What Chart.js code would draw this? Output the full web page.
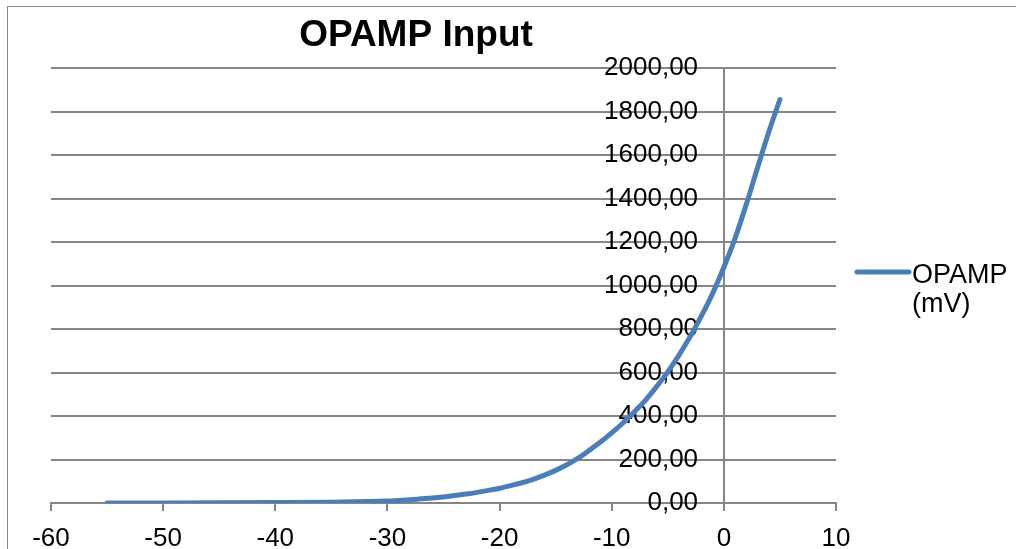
<!DOCTYPE html>
<html>
<head>
<meta charset="utf-8">
<script src="https://cdn.jsdelivr.net/npm/chart.js@4.4.0/dist/chart.umd.min.js"></script>
<style>
html, body { margin: 0; padding: 0; background: #fff; }
#wrap { position: relative; width: 1016px; height: 549px; overflow: hidden; }
#frame { position: absolute; left: 7px; top: 6px; width: 1100px; height: 600px; border: 1px solid #868686; }
canvas { position: absolute; left: 0; top: 0; }
</style>
</head>
<body>
<div id="wrap">
<div id="frame"></div>
<canvas id="myChart" width="1016" height="549"></canvas>
</div>
<script>
const ctx = document.getElementById('myChart');

// x values (input) and OPAMP output in mV
const inputX = [-55, -50, -45, -40, -35, -30, -29, -28, -27, -26, -25, -24, -23, -22, -21,
    -20, -19, -18, -17, -16, -15, -14, -13, -12, -11, -10, -9, -8, -7, -6,
    -5, -4, -3, -2, -1, 0, 1, 2, 3, 4, 5];
const opampMv = [0.2, 0.5, 1, 2, 4, 9, 12, 15, 19, 23, 28, 34, 41, 49, 58,
    68, 80, 93, 109, 128, 150, 176, 206, 242, 280, 322, 368, 418, 472, 535,
    603, 680, 765, 860, 964, 1084, 1217, 1373, 1541, 1705, 1855];
const xTicks = [-60, -50, -40, -30, -20, -10, 0, 10];
const yTicks = [0, 200, 400, 600, 800, 1000, 1200, 1400, 1600, 1800, 2000];

const points = inputX.map((x, i) => ({ x: x, y: opampMv[i] }));

const fontFamily = '"Liberation Sans", Arial, sans-serif';

const excelDecor = {
    id: 'excelDecor',
    afterDraw(chart) {
        const c = chart.ctx;
        const ds = chart.data.datasets[0];
        c.save();
        // title
        c.fillStyle = '#000';
        c.font = 'bold 37px ' + fontFamily;
        c.textAlign = 'center';
        c.textBaseline = 'alphabetic';
        c.fillText('OPAMP Input', 416, 46);
        // legend
        c.strokeStyle = ds.borderColor;
        c.lineWidth = 5;
        c.lineCap = 'round';
        c.beginPath();
        c.moveTo(857, 272);
        c.lineTo(909, 272);
        c.stroke();
        c.font = '27px ' + fontFamily;
        c.textAlign = 'left';
        const parts = ds.label.split(' ');
        c.fillText(parts[0], 912, 283);
        c.fillText(parts[1], 912, 312);
        c.restore();
    }
};

new Chart(ctx, {
    type: 'line',
    data: {
        datasets: [{
            label: 'OPAMP (mV)',
            data: points,
            borderColor: '#4a7ebb',
            borderWidth: 5,
            borderCapStyle: 'round',
            pointRadius: 0,
            fill: false,
            cubicInterpolationMode: 'monotone',
        }],
    },
    options: {
        responsive: false,
        animation: false,
        devicePixelRatio: 1,
        layout: {
            padding: { top: 68, left: 51, right: 180, bottom: 0 },
        },
        scales: {
            x: {
                type: 'linear',
                position: 'bottom',
                min: -60,
                max: 10,
                afterBuildTicks: s => { s.ticks = xTicks.map(v => ({ value: v })); },
                afterFit: s => { s.height = 46; },
                grid: {
                    drawOnChartArea: false,
                    drawTicks: true,
                    tickLength: 8,
                    color: '#868686',
                    lineWidth: 2,
                },
                border: { color: '#868686', width: 2 },
                ticks: {
                    color: '#000',
                    font: { family: fontFamily, size: 26 },
                    padding: 12,
                    maxRotation: 0,
                    autoSkip: false,
                },
            },
            // axis line + gridlines, crossing at x = 0
            y: {
                type: 'linear',
                position: { x: 0 },
                min: 0,
                max: 2000,
                afterBuildTicks: s => { s.ticks = yTicks.map(v => ({ value: v })); },
                grid: {
                    color: '#868686',
                    lineWidth: 2,
                    drawTicks: false,
                },
                border: { color: '#868686', width: 2 },
                ticks: { display: false },
            },
            // tick labels, set a little left of the axis line
            yLabels: {
                type: 'linear',
                axis: 'y',
                position: { x: -2.3 },
                min: 0,
                max: 2000,
                afterBuildTicks: s => { s.ticks = yTicks.map(v => ({ value: v })); },
                grid: { display: false, drawTicks: false },
                border: { display: false },
                ticks: {
                    color: '#000',
                    font: { family: fontFamily, size: 26 },
                    callback: v => v.toFixed(2).replace('.', ','),
                },
            },
        },
        plugins: {
            legend: { display: false },
            title: { display: false },
            tooltip: { enabled: false },
        },
    },
    plugins: [excelDecor],
});
</script>
</body>
</html>
